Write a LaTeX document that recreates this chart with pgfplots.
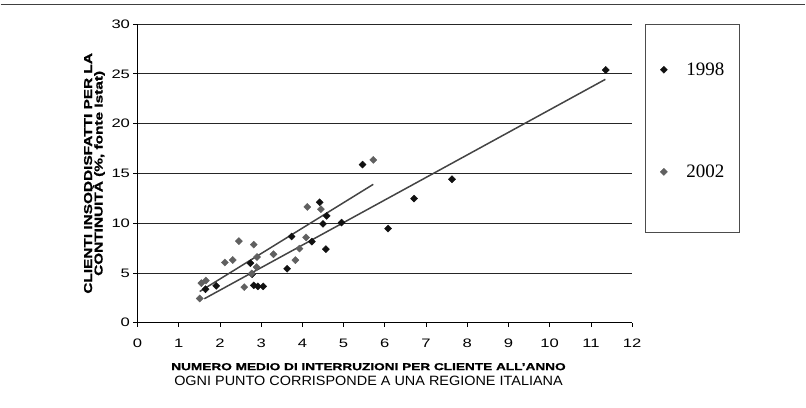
\documentclass[border=0pt]{standalone}
\usepackage{pgfplots}
\pgfplotsset{compat=1.18}
\usepackage{fontspec}
\setmainfont{Liberation Sans}
\newfontfamily\labfont[FakeStretch=1.35, BoldFeatures={FakeBold=1.2}]{Liberation Sans}
\newfontfamily\subfont[FakeStretch=1.07]{Liberation Sans}
\newfontfamily\legendfont{Liberation Serif}
\definecolor{ptA}{HTML}{111111}
\definecolor{ptB}{HTML}{606060}
\definecolor{trend}{HTML}{444444}
\begin{document}
\begin{tikzpicture}
\begin{axis}[
  scale only axis,
  width=495pt, height=299pt,
  xmin=0, xmax=12, ymin=0, ymax=30,
  xtick={0,1,...,12}, ytick={0,5,...,30},
  axis x line*=bottom, axis y line*=left,
  axis line style={-, black, line width=0.9pt},
  tick align=outside, major tick length=4pt,
  tick style={black, line width=0.8pt},
  ymajorgrids, major grid style={black!85, line width=0.9pt},
  /pgf/number format/assume math mode=true,
  ticklabel style={font=\labfont\fontsize{12.3}{13}\selectfont},
  xticklabel style={yshift=-9pt},
  clip=false,
  legend cell align=left,
  legend image code/.code={\draw[#1] plot coordinates {(0pt,0pt)};},
  legend style={draw=none, fill=none, inner sep=0pt,
    at={(axis description cs:1.0566,0.871)}, anchor=north west,
    font=\legendfont\fontsize{19}{19}\selectfont,
    row sep=88pt, column sep=19pt,
    nodes={inner sep=0pt}},
]
\addplot[only marks, mark=square*, mark size=2.5pt, mark options={rotate=45, fill=ptA, draw=ptA}] coordinates {
(1.65,3.37) (1.91,3.71) (2.74,5.98) (2.78,4.88) (2.82,3.75) (2.92,3.65) (3.05,3.65)
(3.63,5.42) (3.74,8.66) (4.23,8.15) (4.42,12.1) (4.50,9.93) (4.59,10.73) (4.57,7.39)
(4.95,10.06) (5.46,15.88) (6.08,9.46) (6.71,12.47) (7.63,14.41) (11.36,25.38)
};
\addlegendentry{1998}
\addplot[only marks, mark=square*, mark size=2.5pt, mark options={rotate=45, fill=ptB, draw=ptB}] coordinates {
(1.51,2.44) (1.55,3.98) (1.66,4.24) (2.12,6.05) (2.31,6.30) (2.46,8.20) (2.59,3.58)
(2.82,7.85) (2.89,5.59) (2.90,6.60) (2.77,4.95) (3.30,6.88) (3.83,6.29) (3.93,7.45)
(4.09,8.57) (4.12,11.63) (4.45,11.40) (5.72,16.35)
};
\addlegendentry{2002}
\addplot[trend, line width=1.5pt, forget plot] coordinates {(1.62,2.41) (11.35,24.44)};
\addplot[trend, line width=1.5pt, forget plot] coordinates {(1.51,3.14) (5.72,13.90)};
\node[rotate=90, align=center, font=\labfont\bfseries\fontsize{11.4}{10.5}\selectfont]
  at (axis description cs:-0.087,0.5) {CLIENTI INSODDISFATTI PER LA\\CONTINUITÀ (\%, fonte Istat)};
\node[font=\labfont\bfseries\fontsize{10.1}{11}\selectfont] at (axis description cs:0.467,-0.147) {NUMERO MEDIO DI INTERRUZIONI PER CLIENTE ALL’ANNO};
\node[font=\subfont\fontsize{13.5}{14}\selectfont] at (axis description cs:0.467,-0.194) {OGNI PUNTO CORRISPONDE A UNA REGIONE ITALIANA};
\end{axis}
\draw[black!75, line width=1.2pt] (-137pt,318.5pt) -- (668pt,318.5pt);
\draw[black!70, line width=0.9pt] (508pt,90pt) rectangle (602pt,299pt);
\path[use as bounding box] (-137pt,-85pt) rectangle (669pt,323pt);
\end{tikzpicture}
\end{document}
